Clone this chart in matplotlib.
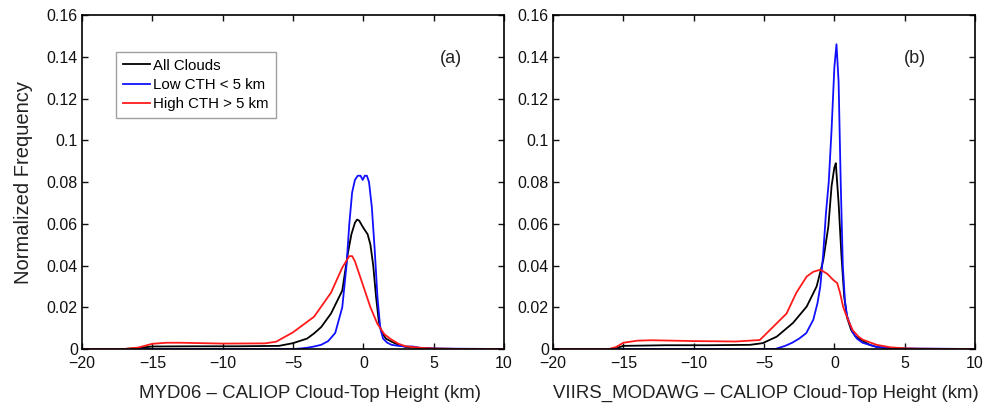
import numpy as np
import matplotlib
matplotlib.use('Agg')
import matplotlib.pyplot as plt
from matplotlib.ticker import FuncFormatter

# ---- data ----
# panel (a): MYD06 - CALIOP
a_all_x = [-20, -17, -16, -15, -12, -9, -6, -5, -4, -3.5, -3, -2.3, -1.5, -1.1, -0.85, -0.6, -0.45, -0.3, 0, 0.3, 0.5, 0.7, 0.9, 1.1, 1.3, 1.6, 2, 2.5, 3, 4, 5, 7, 10]
a_all_y = [0, 0, 0.0005, 0.0012, 0.0013, 0.0013, 0.0015, 0.0028, 0.0050, 0.0075, 0.0105, 0.017, 0.028, 0.046, 0.055, 0.0605, 0.062, 0.0615, 0.058, 0.055, 0.050, 0.040, 0.025, 0.013, 0.008, 0.005, 0.0035, 0.002, 0.001, 0.0005, 0.0002, 0, 0]

a_low_x = [-20, -5, -4.5, -4, -3.5, -3, -2.5, -2, -1.5, -1.2, -1.0, -0.8, -0.6, -0.4, -0.2, -0.05, 0.1, 0.25, 0.4, 0.6, 0.8, 1.0, 1.2, 1.4, 1.7, 2, 2.5, 3, 3.5, 4, 5, 10]
a_low_y = [0, 0, 0.0002, 0.0006, 0.0012, 0.002, 0.0038, 0.0077, 0.020, 0.040, 0.060, 0.075, 0.081, 0.083, 0.083, 0.081, 0.083, 0.083, 0.080, 0.068, 0.048, 0.025, 0.010, 0.005, 0.003, 0.002, 0.0015, 0.0012, 0.0012, 0.0006, 0.0002, 0]

a_high_x = [-20, -17, -16, -15, -14, -13, -10, -7, -6.2, -5, -4.6, -3.5, -2.3, -1.5, -1.0, -0.8, -0.6, -0.4, 0, 0.5, 1.0, 1.5, 2, 2.5, 3, 4, 5, 7, 10]
a_high_y = [0, 0, 0.0007, 0.0025, 0.003, 0.003, 0.0026, 0.0027, 0.0035, 0.008, 0.010, 0.0155, 0.027, 0.039, 0.0445, 0.0445, 0.042, 0.038, 0.030, 0.020, 0.012, 0.007, 0.0045, 0.0025, 0.0013, 0.0006, 0.0002, 0, 0]

# panel (b): VIIRS_MODAWG - CALIOP
b_all_x = [-20, -16, -15.5, -15, -12, -9, -6, -5.1, -4.1, -2.94, -1.97, -1.26, -0.79, -0.43, -0.2, 0, 0.1, 0.3, 0.5, 0.7, 0.9, 1.2, 1.5, 2, 2.5, 3, 4, 5, 10]
b_all_y = [0, 0, 0.0004, 0.0015, 0.0018, 0.0018, 0.002, 0.0028, 0.0059, 0.0125, 0.0203, 0.030, 0.0426, 0.0586, 0.078, 0.087, 0.089, 0.070, 0.045, 0.025, 0.015, 0.009, 0.006, 0.004, 0.002, 0.001, 0.0004, 0.0001, 0]

b_low_x = [-20, -4.2, -3.5, -3, -2.5, -2, -1.5, -1.2, -1.0, -0.8, -0.6, -0.4, -0.2, 0, 0.15, 0.3, 0.45, 0.6, 0.75, 0.9, 1.1, 1.3, 1.6, 2, 2.5, 3, 4, 10]
b_low_y = [0, 0, 0.0015, 0.003, 0.005, 0.0076, 0.014, 0.022, 0.030, 0.045, 0.065, 0.080, 0.105, 0.135, 0.146, 0.128, 0.080, 0.040, 0.023, 0.016, 0.012, 0.008, 0.005, 0.003, 0.002, 0.001, 0.0003, 0]

b_high_x = [-20, -16, -15.5, -15, -14, -13, -10, -7, -5.3, -4.34, -3.4, -2.7, -1.97, -1.5, -1.0, -0.5, -0.07, 0.2, 0.4, 0.63, 0.97, 1.3, 1.7, 2, 3, 4, 5, 6, 10]
b_high_y = [0, 0, 0.001, 0.003, 0.004, 0.0042, 0.0038, 0.0036, 0.0043, 0.0107, 0.017, 0.027, 0.0347, 0.037, 0.038, 0.036, 0.033, 0.0316, 0.027, 0.020, 0.014, 0.009, 0.006, 0.0045, 0.002, 0.0008, 0.0003, 0.0001, 0]

series_names = ['All Clouds', 'Low CTH < 5 km', 'High CTH > 5 km']
series_colors = ['black', '#1010ff', '#ff1a1a']
xlabels = ['MYD06 \u2013 CALIOP Cloud-Top Height (km)',
           'VIIRS_MODAWG \u2013 CALIOP Cloud-Top Height (km)']
xlabel_pos = [0.54, 0.505]
panel_tags = ['(a)', '(b)']
tag_x = [6.2, 5.7]

plt.rcParams['font.family'] = ['Liberation Sans', 'DejaVu Sans']

fig = plt.figure(figsize=(9.87, 4.07), dpi=100)
ax1 = fig.add_axes([0.0831, 0.1425, 0.4276, 0.8206])
ax2 = fig.add_axes([0.5603, 0.1425, 0.4276, 0.8206])

panels = [
    (ax1, [(a_all_x, a_all_y), (a_low_x, a_low_y), (a_high_x, a_high_y)]),
    (ax2, [(b_all_x, b_all_y), (b_low_x, b_low_y), (b_high_x, b_high_y)]),
]

fmt = FuncFormatter(lambda v, p: '%g' % round(v, 4))

for i, (ax, curves) in enumerate(panels):
    for (x, y), name, c in zip(curves, series_names, series_colors):
        ax.plot(x, y, '-', color=c, lw=1.3, label=name)
    ax.set_xlim(-20, 10)
    ax.set_ylim(0, 0.16)
    ax.set_xticks(np.arange(-20, 11, 5))
    ax.set_yticks(np.arange(0, 0.161, 0.02))
    ax.yaxis.set_major_formatter(fmt)
    ax.tick_params(direction='in', top=True, right=True, length=4,
                   width=1, labelsize=11.5, pad=3, colors='#111111')
    ax.tick_params(axis='x', pad=5)
    for s in ax.spines.values():
        s.set_linewidth(1.2)
    ax.set_xlabel(xlabels[i], fontsize=13.4, labelpad=10, color='#222222')
    ax.xaxis.label.set_x(xlabel_pos[i])
    ax.text(tag_x[i], 0.139, panel_tags[i], fontsize=13, ha='center', va='center',
            color='#222222')

ax1.set_ylabel('Normalized Frequency', fontsize=14.5, labelpad=10, color='#222222')
leg = ax1.legend(loc='upper left', bbox_to_anchor=(0.08, 0.89), borderaxespad=0,
                 fontsize=10.8, handlelength=1.8, frameon=True, fancybox=False,
                 labelspacing=0.35, borderpad=0.45, handletextpad=0.25)
leg.get_frame().set_edgecolor('#888888')
leg.get_frame().set_linewidth(1.0)

fig.savefig('out.png', dpi=100)
